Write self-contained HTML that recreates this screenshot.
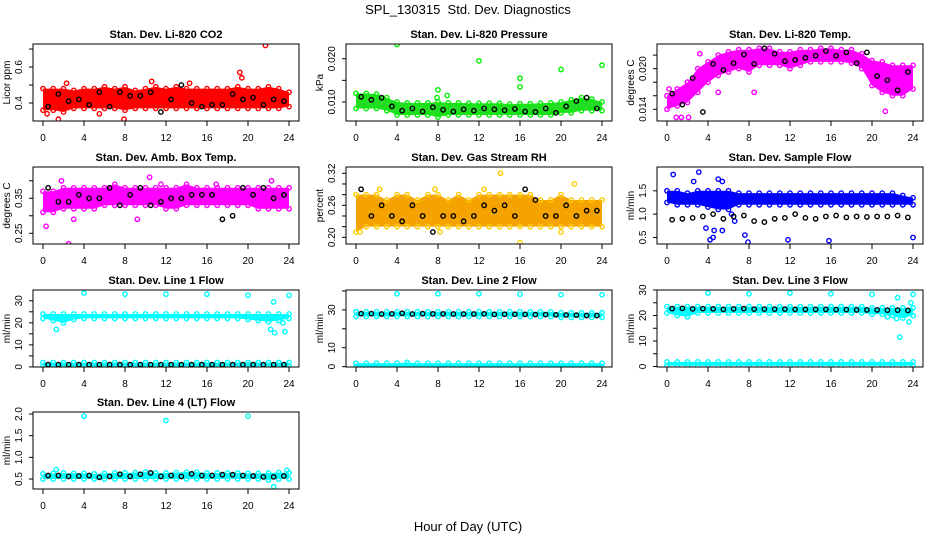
<!DOCTYPE html>
<html><head><meta charset="utf-8"><style>
body{margin:0;background:#fff;}
svg{display:block;font-family:"Liberation Sans",Arial,sans-serif;}
</style></head><body>
<svg id="chart" width="936" height="540" viewBox="0 0 936 540" xmlns="http://www.w3.org/2000/svg">
<rect x="0" y="0" width="936" height="540" fill="#fff"/>
<text x="468" y="14" text-anchor="middle" font-size="13" xml:space="preserve">SPL_130315  Std. Dev. Diagnostics</text>
<text x="468" y="531" text-anchor="middle" font-size="13">Hour of Day (UTC)</text>
</svg>
<script>
const hours = [0,1,2,3,4,5,6,7,8,9,10,11,12,13,14,15,16,17,18,19,20,21,22,23,24];
const blackHours = [0.5,1.5,2.5,3.5,4.5,5.5,6.5,7.5,8.5,9.5,10.5,11.5,12.5,13.5,14.5,15.5,16.5,17.5,18.5,19.5,20.5,21.5,22.5,23.5];
const xTicks = [0,4,8,12,16,20,24];

const co2Lo = [0.36,0.36,0.35,0.37,0.37,0.37,0.37,0.37,0.36,0.37,0.37,0.37,0.37,0.37,0.37,0.37,0.37,0.37,0.37,0.37,0.37,0.37,0.37,0.37,0.38];
const co2Hi = [0.48,0.48,0.48,0.47,0.48,0.48,0.49,0.48,0.49,0.47,0.48,0.49,0.48,0.49,0.48,0.48,0.48,0.48,0.48,0.49,0.48,0.48,0.49,0.48,0.46];
const co2OutX = [1.5,7.9,19.2,19.4,21.7,0.4,5.5,10.6,14.3,2.3];
const co2OutY = [0.31,0.31,0.57,0.54,0.72,0.34,0.34,0.52,0.51,0.51];
const co2Black = [0.38,0.45,0.41,0.42,0.39,0.46,0.38,0.46,0.44,0.44,0.46,0.35,0.42,0.50,0.40,0.38,0.39,0.39,0.45,0.42,0.43,0.39,0.42,0.41];

const presLo = [0.0085,0.0085,0.0085,0.008,0.007,0.007,0.007,0.007,0.0065,0.007,0.007,0.007,0.007,0.007,0.007,0.007,0.007,0.007,0.007,0.007,0.0075,0.0075,0.008,0.008,0.008];
const presHi = [0.0120,0.0120,0.0118,0.0110,0.0100,0.0098,0.0098,0.0098,0.0100,0.0098,0.0098,0.0097,0.0097,0.0097,0.0097,0.0095,0.0096,0.0096,0.0097,0.0098,0.0100,0.0105,0.0110,0.0107,0.0100];
const presOutX = [4,12,16,16,20,24,8,8.9,7.9];
const presOutY = [0.0233,0.0195,0.0155,0.0135,0.0175,0.0185,0.0128,0.0115,0.0110];
const presBlack = [0.0112,0.0105,0.0110,0.0090,0.0080,0.0085,0.0078,0.0088,0.0082,0.0078,0.0083,0.0080,0.0085,0.0083,0.0081,0.0084,0.0078,0.0077,0.0085,0.0075,0.0090,0.0102,0.0110,0.0085];

const tempLo = [0.0140,0.0145,0.0150,0.0165,0.0180,0.0190,0.0195,0.0200,0.0195,0.0205,0.0205,0.0205,0.0200,0.0205,0.0210,0.0210,0.0210,0.0210,0.0208,0.0200,0.0175,0.0165,0.0160,0.0160,0.0170];
const tempHi = [0.0160,0.0170,0.0180,0.0200,0.0210,0.0220,0.0225,0.0228,0.0228,0.0230,0.0230,0.0225,0.0225,0.0228,0.0228,0.0230,0.0230,0.0228,0.0228,0.0222,0.0212,0.0210,0.0205,0.0205,0.0205];
const tempOutX = [0.9,1.4,2.1,3.2,21.3,0.2,5.0,8.5];
const tempOutY = [0.0128,0.0128,0.0128,0.0222,0.0137,0.0170,0.0165,0.0165];
const tempBlack = [0.0163,0.0147,0.0186,0.0136,0.0207,0.0198,0.0208,0.0221,0.0207,0.0230,0.0222,0.0211,0.0213,0.0216,0.0219,0.0226,0.0219,0.0224,0.0208,0.0224,0.0189,0.0183,0.0168,0.0195];

const ambLo = [0.31,0.31,0.32,0.32,0.32,0.32,0.33,0.33,0.33,0.33,0.33,0.33,0.32,0.32,0.33,0.33,0.33,0.33,0.33,0.33,0.33,0.32,0.32,0.32,0.32];
const ambHi = [0.37,0.37,0.38,0.38,0.38,0.38,0.38,0.39,0.38,0.38,0.38,0.38,0.38,0.38,0.39,0.38,0.38,0.38,0.38,0.38,0.38,0.38,0.38,0.38,0.38];
const ambOutX = [0.3,2.5,3,9.2,11.5,16.9,22.3,10.4,1.8];
const ambOutY = [0.27,0.22,0.29,0.29,0.39,0.39,0.40,0.41,0.40];
const ambBlack = [0.38,0.34,0.34,0.36,0.35,0.35,0.38,0.33,0.36,0.38,0.33,0.34,0.35,0.35,0.36,0.36,0.36,0.29,0.30,0.38,0.36,0.38,0.35,0.36];

const rhLo = [0.21,0.22,0.22,0.22,0.22,0.22,0.22,0.22,0.22,0.22,0.22,0.22,0.22,0.22,0.22,0.22,0.22,0.22,0.22,0.22,0.22,0.22,0.22,0.22,0.22];
const rhHi = [0.28,0.28,0.28,0.27,0.28,0.28,0.27,0.28,0.28,0.27,0.28,0.27,0.28,0.28,0.28,0.28,0.28,0.28,0.27,0.27,0.28,0.27,0.27,0.27,0.27];
const rhOutX = [0.4,2.3,7.7,12.5,14.1,16,20,21.3,8.2];
const rhOutY = [0.21,0.29,0.29,0.29,0.32,0.19,0.21,0.30,0.21];
const rhBlack = [0.29,0.24,0.26,0.24,0.23,0.26,0.24,0.21,0.24,0.24,0.23,0.24,0.26,0.25,0.26,0.24,0.29,0.27,0.24,0.24,0.26,0.24,0.25,0.25];

const sfLo = [1.25,1.2,1.2,1.2,1.15,1.1,1.1,1.2,1.2,1.2,1.2,1.2,1.2,1.2,1.2,1.2,1.2,1.2,1.2,1.2,1.2,1.2,1.2,1.2,1.2];
const sfHi = [1.5,1.5,1.45,1.5,1.5,1.5,1.5,1.45,1.45,1.45,1.45,1.45,1.45,1.45,1.45,1.45,1.45,1.45,1.45,1.45,1.45,1.45,1.45,1.4,1.35];
const sfOutX = [0.6,3.1,2.6,4.5,4.2,3.8,4.6,5.4,5.0,5.4,7.9,7.6,11.8,15.8,24,6.3,6.6];
const sfOutY = [1.85,1.9,1.7,0.5,0.45,0.7,0.65,0.65,1.75,1.7,0.4,0.55,0.45,0.43,0.5,1.0,0.85];
const sfBlack = [0.88,0.9,0.92,0.95,1.0,0.9,0.95,0.97,0.85,0.83,0.9,0.92,1.0,0.92,0.9,0.95,0.97,0.93,0.95,0.94,0.95,0.95,0.97,0.93];

const l1Lo = [22,21,20,21.5,22,22,22,22,22,22,22,22,22,22,22,22,22,22,22,22,21.5,21,20.5,21,22];
const l1Hi = [24,24,24,24,24,24,24,24,24,24,24,24,24,24,24,24,24,24,24,24,24,24,24,24,24];
const l1Lo2 = [0.3,0.3,0.3,0.3,0.3,0.3,0.3,0.3,0.3,0.3,0.3,0.3,0.3,0.3,0.3,0.3,0.3,0.3,0.3,0.3,0.3,0.3,0.3,0.3,0.3];
const l1Hi2 = [2,2,2,2,2,2,2,2,2,2,2,2,2,2,2,2,2,2,2,2,2,2,2,2,2];
const l1OutX = [4,8,12,16,20,22.5,24,1.3,22.2,22.6,23.6,23.4];
const l1OutY = [33.5,33,33,33,32.5,29.5,32.5,17,17,15.5,16,20];
const l1Black = [1,1,1,1,1,1,1,1,1,1,1,1,1,1,1,1,1,1,1,1,1,1,1,1];

const l2Lo = [26.5,26.5,26.5,26.5,26.5,26.5,26.5,26.5,26.5,26.5,26.5,26.5,26.5,26.5,26.5,26.5,26.5,26.5,26.5,26.5,26,26,26,26,26];
const l2Hi = [29,29,29,29,29,29,29,29,29,29,29,29,29,29,29,29,29,29,29,29,28.5,28.5,28.5,28.5,28.5];
const l2Lo2 = [0,0,0,0,0,0,0,0,0,0,0,0,0,0,0,0,0,0,0,0,0,0,0,0,0];
const l2Hi2 = [1.8,1.8,1.8,1.8,1.8,2.2,1.8,1.8,1.8,1.8,1.8,1.8,1.8,1.8,1.8,1.8,1.8,1.8,1.8,1.8,1.8,1.8,1.8,1.8,1.8];
const l2OutX = [4,8,12,16,20,24];
const l2OutY = [38.5,38.5,38.5,38.3,38,38];
const l2Black = [28,28,27.8,27.9,28.2,27.8,28,27.9,27.9,27.8,27.8,27.8,27.9,27.6,27.7,27.7,27.6,27.5,27.5,27.4,27.3,27.2,27,27];

const l3Lo = [21,20,19.5,21,21,21,21,21,21,21,21,21,21,21,21,21,21,21,21,21,20.5,20.5,20,19,20];
const l3Hi = [23.5,23.5,23.5,23.5,23.5,23.5,23.5,23.5,23.5,23.5,23.5,23.5,23.5,23.5,23.5,23.5,23.5,23.5,23.5,23.5,23,23,23,23,23];
const l3Lo2 = [0.3,0.3,0.3,0.3,0.3,0.3,0.3,0.3,0.3,0.3,0.3,0.3,0.3,0.3,0.3,0.3,0.3,0.3,0.3,0.3,0.3,0.3,0.3,0.3,0.3];
const l3Hi2 = [1.8,1.8,1.8,1.8,1.8,1.8,1.8,1.8,1.8,1.8,1.8,1.8,1.8,1.8,1.8,1.8,1.8,1.8,1.8,1.8,1.8,1.8,1.8,1.8,1.8];
const l3OutX = [4,8,12,16,20,22.5,22.7,23.6,23.8,24,21.5,22.4];
const l3OutY = [28.8,28.5,28.8,28.5,28.3,27,11.5,17.5,25,28.3,19.5,18.8];
const l3Black = [22.7,22.8,22.6,22.7,22.6,22.4,22.6,22.7,22.5,22.5,22.5,22.5,22.4,22.4,22.4,22.4,22.3,22.3,22.2,22.2,22.2,22.1,22.1,22];

const l4Lo = [0.5,0.5,0.5,0.5,0.5,0.5,0.5,0.5,0.5,0.5,0.5,0.5,0.5,0.5,0.5,0.5,0.5,0.5,0.5,0.5,0.5,0.5,0.48,0.5,0.5];
const l4Hi = [0.62,0.63,0.64,0.63,0.63,0.62,0.63,0.64,0.64,0.65,0.66,0.64,0.64,0.65,0.66,0.66,0.64,0.64,0.64,0.64,0.63,0.63,0.64,0.65,0.64];
const l4OutX = [4,12,20,22.5,1.3,23.8];
const l4OutY = [1.95,1.85,1.95,0.32,0.72,0.7];
const l4Black = [0.58,0.58,0.56,0.57,0.58,0.54,0.56,0.61,0.56,0.61,0.64,0.56,0.58,0.56,0.62,0.58,0.58,0.6,0.6,0.58,0.57,0.55,0.55,0.57];

const SVGNS = "http://www.w3.org/2000/svg";
const svg = document.getElementById('chart');
const W = 266, H = 77;
const colLeft = [33, 346, 657];
const rowTop = [44, 167, 290, 412];
const R = 2.2, SW = 1.4;

function mk(tag, attrs, parent) {
  const e = document.createElementNS(SVGNS, tag);
  for (const k in attrs) e.setAttribute(k, attrs[k]);
  (parent || svg).appendChild(e);
  return e;
}

const panels = [
  {key:'co2', title:'Stan. Dev. Li-820 CO2', ylab:'Licor ppm', col:0, row:0, ymin:0.30, ymax:0.728, ticks:[0.4,0.5,0.6,0.7], labels:[0.4,0.6], dec:1, color:'#ff0000', ring:'#ff0000', lo:co2Lo, hi:co2Hi, ox:co2OutX, oy:co2OutY, blk:co2Black},
  {key:'pressure', title:'Stan. Dev. Li-820 Pressure', ylab:'kPa', col:1, row:0, ymin:0.00561, ymax:0.0234, ticks:[0.010,0.015,0.020], labels:[0.010,0.020], dec:3, color:'#22dd22', ring:'#00ee00', lo:presLo, hi:presHi, ox:presOutX, oy:presOutY, blk:presBlack},
  {key:'temp', title:'Stan. Dev. Li-820 Temp.', ylab:'degrees C', col:2, row:0, ymin:0.01227, ymax:0.02364, ticks:[0.014,0.016,0.018,0.020,0.022], labels:[0.014,0.020], dec:3, color:'#ff00ff', ring:'#ff00ff', lo:tempLo, hi:tempHi, ox:tempOutX, oy:tempOutY, blk:tempBlack},
  {key:'amb-box', title:'Stan. Dev. Amb. Box Temp.', ylab:'degrees C', col:0, row:1, ymin:0.2194, ymax:0.4394, ticks:[0.25,0.30,0.35,0.40], labels:[0.25,0.35], dec:2, color:'#ff00ff', ring:'#ff00ff', lo:ambLo, hi:ambHi, ox:ambOutX, oy:ambOutY, blk:ambBlack},
  {key:'rh', title:'Stan. Dev. Gas Stream RH', ylab:'percent', col:1, row:1, ymin:0.1875, ymax:0.3318, ticks:[0.20,0.22,0.24,0.26,0.28,0.30,0.32], labels:[0.20,0.26,0.32], dec:2, color:'#f4a300', ring:'#ffcc00', lo:rhLo, hi:rhHi, ox:rhOutX, oy:rhOutY, blk:rhBlack},
  {key:'sample-flow', title:'Stan. Dev. Sample Flow', ylab:'ml/min', col:2, row:1, ymin:0.36, ymax:2.01, ticks:[0.5,1.0,1.5], labels:[0.5,1.0,1.5], dec:1, color:'#0000ff', ring:'#0000ff', lo:sfLo, hi:sfHi, ox:sfOutX, oy:sfOutY, blk:sfBlack},
  {key:'line1', title:'Stan. Dev. Line 1 Flow', ylab:'ml/min', col:0, row:2, ymin:-0.05, ymax:34.9, ticks:[0,5,10,15,20,25,30], labels:[0,10,20,30], dec:0, color:'#00ffff', ring:'#00ffff', lo:l1Lo, hi:l1Hi, lo2:l1Lo2, hi2:l1Hi2, ox:l1OutX, oy:l1OutY, blk:l1Black},
  {key:'line2', title:'Stan. Dev. Line 2 Flow', ylab:'ml/min', col:1, row:2, ymin:-0.2, ymax:40.5, ticks:[0,10,20,30,40], labels:[0,10,30], dec:0, color:'#00ffff', ring:'#00ffff', lo:l2Lo, hi:l2Hi, lo2:l2Lo2, hi2:l2Hi2, ox:l2OutX, oy:l2OutY, blk:l2Black},
  {key:'line3', title:'Stan. Dev. Line 3 Flow', ylab:'ml/min', col:2, row:2, ymin:-0.2, ymax:30, ticks:[0,5,10,15,20,25,30], labels:[0,10,20,30], dec:0, color:'#00ffff', ring:'#00ffff', lo:l3Lo, hi:l3Hi, lo2:l3Lo2, hi2:l3Hi2, ox:l3OutX, oy:l3OutY, blk:l3Black},
  {key:'line4', title:'Stan. Dev. Line 4 (LT) Flow', ylab:'ml/min', col:0, row:3, ymin:0.27, ymax:2.046, ticks:[0.5,1.0,1.5,2.0], labels:[0.5,1.0,1.5,2.0], dec:1, color:'#00ffff', ring:'#00ffff', lo:l4Lo, hi:l4Hi, ox:l4OutX, oy:l4OutY, blk:l4Black}
];

panels.forEach(p => {
  const L = colLeft[p.col], T = rowTop[p.row];
  const g = mk('g', {});
  
  
  const xs = h => L + 10 + h * (W - 20) / 24;
  const ys = v => T + H - (v - p.ymin) / (p.ymax - p.ymin) * H;

  const clipId = 'clip-' + p.key;
  const cp = mk('clipPath', {id: clipId}, g);
  mk('rect', {x: L, y: T, width: W, height: H}, cp);
  const plot = mk('g', {'clip-path': 'url(#' + clipId + ')'}, g);
  
  

  function band(lo, hi, nm) {
    let pts = [];
    hours.forEach((h, i) => pts.push(xs(h) + ',' + ys(hi[i])));
    for (let i = hours.length - 1; i >= 0; i--) pts.push(xs(hours[i]) + ',' + ys(lo[i]));
    const poly = mk('polygon', {points: pts.join(' '), fill: p.color}, plot);
    
    
    hours.forEach((h, i) => {
      [lo[i], hi[i]].forEach(v => {
        const c = mk('circle', {cx: xs(h), cy: ys(v), r: R, fill: 'none', stroke: p.ring, 'stroke-width': SW}, plot);
        
        
      });
    });
  }
  band(p.lo, p.hi, 'data-band-' + p.key);
  if (p.lo2) band(p.lo2, p.hi2, 'data-band-low-' + p.key);

  p.ox.forEach((h, i) => {
    const c = mk('circle', {cx: xs(h), cy: ys(p.oy[i]), r: R, fill: 'none', stroke: p.ring, 'stroke-width': SW}, plot);
    
    
  });
  p.blk.forEach((v, i) => {
    const c = mk('circle', {cx: xs(blackHours[i]), cy: ys(v), r: R, fill: 'none', stroke: '#000', 'stroke-width': SW}, plot);
    
    
  });

  const box = mk('rect', {x: L, y: T, width: W, height: H, fill: 'none', stroke: '#000', 'stroke-width': 1}, g);
  
  

  const title = mk('text', {x: L + W / 2, y: T - 6, 'text-anchor': 'middle', 'font-size': 11, 'font-weight': 'bold'}, g);
  title.textContent = p.title;
  
  

  const xa = mk('g', {}, g);
  
  
  xTicks.forEach(t => {
    mk('line', {x1: xs(t), x2: xs(t), y1: T + H, y2: T + H + 5, stroke: '#000'}, xa);
    const tx = mk('text', {x: xs(t), y: T + H + 20, 'text-anchor': 'middle', 'font-size': 10}, xa);
    tx.textContent = t;
    
    
  });

  const ya = mk('g', {}, g);
  
  
  const tv = p.ticks.filter(t => ys(t) >= T - 0.5 && ys(t) <= T + H + 0.5);
  tv.forEach(t => mk('line', {x1: L - 4, x2: L, y1: ys(t), y2: ys(t), stroke: '#000'}, ya));
  p.labels.forEach(t => {
    const yy = ys(t);
    const tx = mk('text', {x: L - 11, y: yy, 'text-anchor': 'middle', 'font-size': 10, transform: 'rotate(-90 ' + (L - 11) + ' ' + yy + ')'}, ya);
    tx.textContent = t.toFixed(p.dec);
    
    
  });
  const yl = mk('text', {x: L - 23, y: T + H / 2, 'text-anchor': 'middle', 'font-size': 10, transform: 'rotate(-90 ' + (L - 23) + ' ' + (T + H / 2) + ')'}, g);
  yl.textContent = p.ylab;
  
  
});
</script>
</body></html>
